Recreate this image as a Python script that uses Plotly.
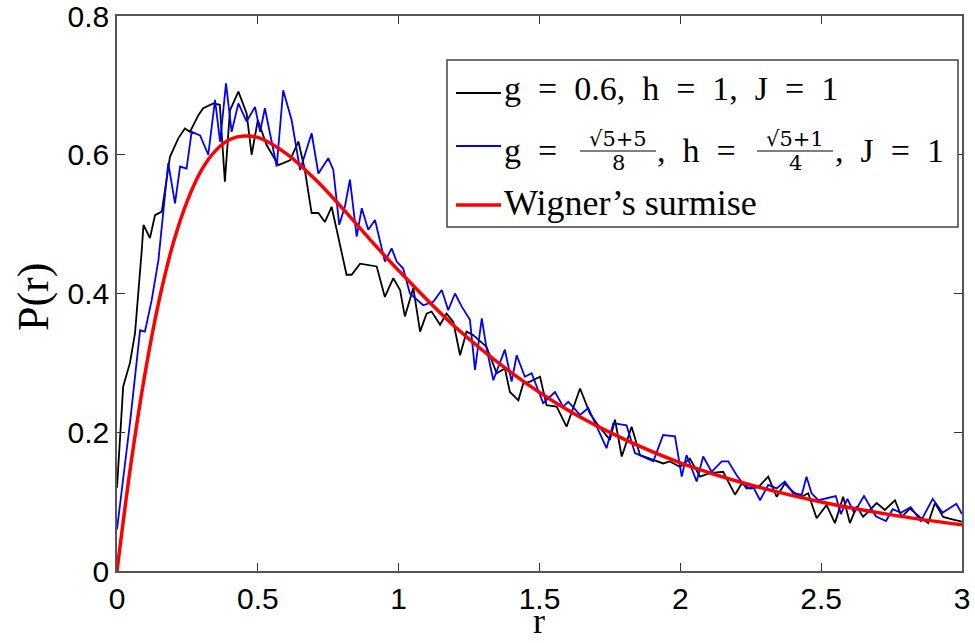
import plotly.graph_objects as go

# ---------------- data ----------------
black_r = [0.000, 0.022, 0.046, 0.064, 0.088, 0.094, 0.117, 0.135, 0.159, 0.188,
           0.218, 0.241, 0.259, 0.289, 0.306, 0.342, 0.365, 0.383, 0.401, 0.431,
           0.460, 0.478, 0.500, 0.531, 0.573, 0.614, 0.644, 0.667, 0.691, 0.715,
           0.738, 0.762, 0.815, 0.833, 0.863, 0.922, 0.951, 0.981, 1.005, 1.022,
           1.052, 1.076, 1.099, 1.117, 1.147, 1.170, 1.194, 1.218, 1.241, 1.265,
           1.312, 1.348, 1.377, 1.395, 1.425, 1.442, 1.466, 1.502, 1.525, 1.561,
           1.596, 1.644, 1.679, 1.703, 1.750, 1.768, 1.792, 1.827, 1.857, 1.892,
           1.939, 1.963, 1.999, 2.034, 2.070, 2.105, 2.152, 2.194, 2.218, 2.247,
           2.277, 2.312, 2.342, 2.371, 2.401, 2.431, 2.454, 2.484, 2.519, 2.549,
           2.578, 2.602, 2.626, 2.649, 2.697, 2.726, 2.762, 2.786, 2.815, 2.850,
           2.880, 2.904, 2.933, 2.969, 3.000]
black_p = [0.120, 0.266, 0.300, 0.343, 0.463, 0.499, 0.480, 0.513, 0.518, 0.597,
           0.624, 0.638, 0.633, 0.657, 0.667, 0.674, 0.672, 0.561, 0.664, 0.691,
           0.660, 0.600, 0.650, 0.614, 0.585, 0.592, 0.619, 0.578, 0.516, 0.516,
           0.503, 0.525, 0.427, 0.427, 0.443, 0.439, 0.395, 0.422, 0.405, 0.367,
           0.408, 0.345, 0.371, 0.374, 0.355, 0.371, 0.359, 0.311, 0.345, 0.340,
           0.323, 0.285, 0.292, 0.258, 0.246, 0.270, 0.273, 0.280, 0.239, 0.237,
           0.208, 0.263, 0.227, 0.213, 0.189, 0.218, 0.165, 0.208, 0.167, 0.162,
           0.155, 0.158, 0.150, 0.162, 0.136, 0.141, 0.143, 0.110, 0.126, 0.119,
           0.121, 0.136, 0.107, 0.126, 0.114, 0.107, 0.112, 0.076, 0.095, 0.069,
           0.107, 0.069, 0.093, 0.078, 0.098, 0.088, 0.102, 0.078, 0.090, 0.078,
           0.069, 0.098, 0.078, 0.074, 0.071]

blue_r = [0.000, 0.046, 0.082, 0.099, 0.123, 0.147, 0.164, 0.182, 0.206, 0.224,
          0.247, 0.265, 0.295, 0.324, 0.348, 0.366, 0.387, 0.407, 0.431, 0.460,
          0.490, 0.508, 0.525, 0.567, 0.590, 0.620, 0.650, 0.691, 0.715, 0.750,
          0.768, 0.789, 0.809, 0.827, 0.851, 0.869, 0.892, 0.916, 0.951, 0.975,
          0.993, 1.016, 1.040, 1.087, 1.123, 1.153, 1.176, 1.200, 1.224, 1.253,
          1.271, 1.295, 1.312, 1.336, 1.377, 1.401, 1.419, 1.448, 1.472, 1.513,
          1.555, 1.584, 1.602, 1.644, 1.673, 1.697, 1.738, 1.762, 1.809, 1.839,
          1.904, 1.939, 1.981, 2.005, 2.022, 2.058, 2.081, 2.111, 2.147, 2.170,
          2.200, 2.235, 2.259, 2.283, 2.312, 2.342, 2.371, 2.401, 2.431, 2.448,
          2.466, 2.490, 2.552, 2.570, 2.593, 2.617, 2.652, 2.694, 2.730, 2.754,
          2.783, 2.818, 2.854, 2.896, 2.931, 2.980, 3.000]
blue_p = [0.060, 0.213, 0.347, 0.345, 0.390, 0.448, 0.516, 0.588, 0.530, 0.583,
          0.580, 0.633, 0.628, 0.600, 0.679, 0.619, 0.703, 0.633, 0.674, 0.648,
          0.669, 0.633, 0.667, 0.583, 0.693, 0.650, 0.578, 0.631, 0.573, 0.595,
          0.578, 0.499, 0.525, 0.564, 0.482, 0.523, 0.492, 0.506, 0.446, 0.465,
          0.446, 0.436, 0.400, 0.383, 0.388, 0.405, 0.376, 0.400, 0.381, 0.362,
          0.290, 0.364, 0.321, 0.275, 0.319, 0.273, 0.311, 0.280, 0.285, 0.242,
          0.258, 0.237, 0.244, 0.225, 0.235, 0.213, 0.177, 0.213, 0.210, 0.170,
          0.158, 0.196, 0.194, 0.136, 0.167, 0.129, 0.165, 0.143, 0.158, 0.158,
          0.138, 0.119, 0.121, 0.102, 0.124, 0.119, 0.129, 0.112, 0.110, 0.136,
          0.112, 0.102, 0.108, 0.082, 0.104, 0.084, 0.108, 0.079, 0.072, 0.089,
          0.084, 0.092, 0.072, 0.104, 0.084, 0.097, 0.082]

wigner_r = [0.0, 0.05, 0.1, 0.15, 0.2, 0.25, 0.3, 0.35, 0.4, 0.45, 0.5, 0.6, 0.7,
            0.8, 0.9, 1.0, 1.2, 1.4, 1.6, 1.8, 2.0, 2.25, 2.5, 2.75, 3.0]
wigner_p = [0.0, 0.156, 0.286, 0.391, 0.473, 0.534, 0.578, 0.606, 0.622, 0.627,
            0.625, 0.602, 0.566, 0.523, 0.477, 0.433, 0.352, 0.286, 0.232, 0.190,
            0.156, 0.124, 0.0995, 0.0809, 0.0665]

x_ticks = [0, 0.5, 1, 1.5, 2, 2.5, 3]
x_tick_labels = ["0", "0.5", "1", "1.5", "2", "2.5", "3"]
y_ticks = [0, 0.2, 0.4, 0.6, 0.8]
y_tick_labels = ["0", "0.2", "0.4", "0.6", "0.8"]

# ---------------- layout geometry ----------------
W, H = 975, 643
L, R, T, B = 117, 13, 16, 72
PW, PH = W - L - R, H - T - B


def px(x):
    return (x - L) / PW


def py(y):
    return (H - B - y) / PH


SERIF = "Liberation Serif"
FSERIF = "DejaVu Serif"
SANS = "Liberation Sans, Arial, sans-serif"

fig = go.Figure()
fig.add_trace(go.Scatter(x=black_r, y=black_p, mode="lines",
                         line=dict(color="black", width=1.8), showlegend=False))
fig.add_trace(go.Scatter(x=blue_r, y=blue_p, mode="lines",
                         line=dict(color="#0000ff", width=1.8), showlegend=False))
fig.add_trace(go.Scatter(x=wigner_r, y=wigner_p, mode="lines",
                         line=dict(color="#ff0000", width=3.5, shape="spline"),
                         showlegend=False))

axis_common = dict(showgrid=False, zeroline=False, showline=True, linecolor="#555555",
                   linewidth=1.5, mirror="ticks", ticks="inside", ticklen=8,
                   tickcolor="#333333", tickwidth=1, ticklabeloverflow="allow",
                   automargin=False,
                   tickfont=dict(family=SANS, size=30, color="black"))

fig.update_xaxes(range=[0, 3], tickvals=x_ticks, ticktext=x_tick_labels, **axis_common)
fig.update_yaxes(range=[0, 0.8], tickvals=y_ticks, ticktext=y_tick_labels, **axis_common)

shapes = []
annotations = []

# legend box
shapes.append(dict(type="rect", xref="paper", yref="paper",
                   x0=px(447), x1=px(958), y0=py(227), y1=py(60),
                   fillcolor="white", line=dict(color="#444444", width=1.5), layer="above"))
# legend line samples
for yy, col, w in [(93, "black", 1.8), (146, "#0000ff", 1.8), (205, "#ff0000", 3.5)]:
    shapes.append(dict(type="line", xref="paper", yref="paper",
                       x0=px(456), x1=px(501), y0=py(yy), y1=py(yy),
                       line=dict(color=col, width=w), layer="above"))

sp = "\u2002"
LF = dict(family=SERIF, size=34, color="black")
FF = dict(family=FSERIF, size=21, color="black")


def ann(text, x, y, font, xanchor="left"):
    annotations.append(dict(text=text, x=px(x), y=py(y), xref="paper", yref="paper",
                            xanchor=xanchor, yanchor="middle", showarrow=False, font=font))


ann(f"g{sp}={sp}0.6,{sp}h{sp}={sp}1,{sp}J{sp}={sp}1", 502, 88, LF)
ann(f"g{sp}={sp}", 502, 150, LF)
ann("\u221a5+5", 618, 139, FF, "center")
ann("8", 618, 163, FF, "center")
shapes.append(dict(type="line", xref="paper", yref="paper", x0=px(580), x1=px(656),
                   y0=py(151), y1=py(151), line=dict(color="black", width=1.2), layer="above"))
ann(f",{sp}h{sp}={sp}", 655, 150, LF)
ann("\u221a5+1", 795, 139, FF, "center")
ann("4", 795, 163, FF, "center")
shapes.append(dict(type="line", xref="paper", yref="paper", x0=px(757), x1=px(833),
                   y0=py(151), y1=py(151), line=dict(color="black", width=1.2), layer="above"))
ann(f",{sp}J{sp}={sp}1", 833, 150, LF)
ann("Wigner\u2019s surmise", 502, 203, dict(family=SERIF, size=36, color="black"))

# axis titles
annotations.append(dict(text="P(r)", x=px(34), y=py(297), xref="paper", yref="paper",
                        textangle=-90, showarrow=False, xanchor="center", yanchor="middle",
                        font=dict(family=SERIF, size=44, color="black")))
annotations.append(dict(text="r", x=px(539), y=py(643), xref="paper", yref="paper",
                        showarrow=False, xanchor="center", yanchor="bottom",
                        font=dict(family=SERIF, size=36, color="black")))

fig.update_layout(width=W, height=H, margin=dict(l=L, r=R, t=T, b=B),
                  plot_bgcolor="white", paper_bgcolor="white",
                  shapes=shapes, annotations=annotations, showlegend=False)

fig.write_html("out.html")
